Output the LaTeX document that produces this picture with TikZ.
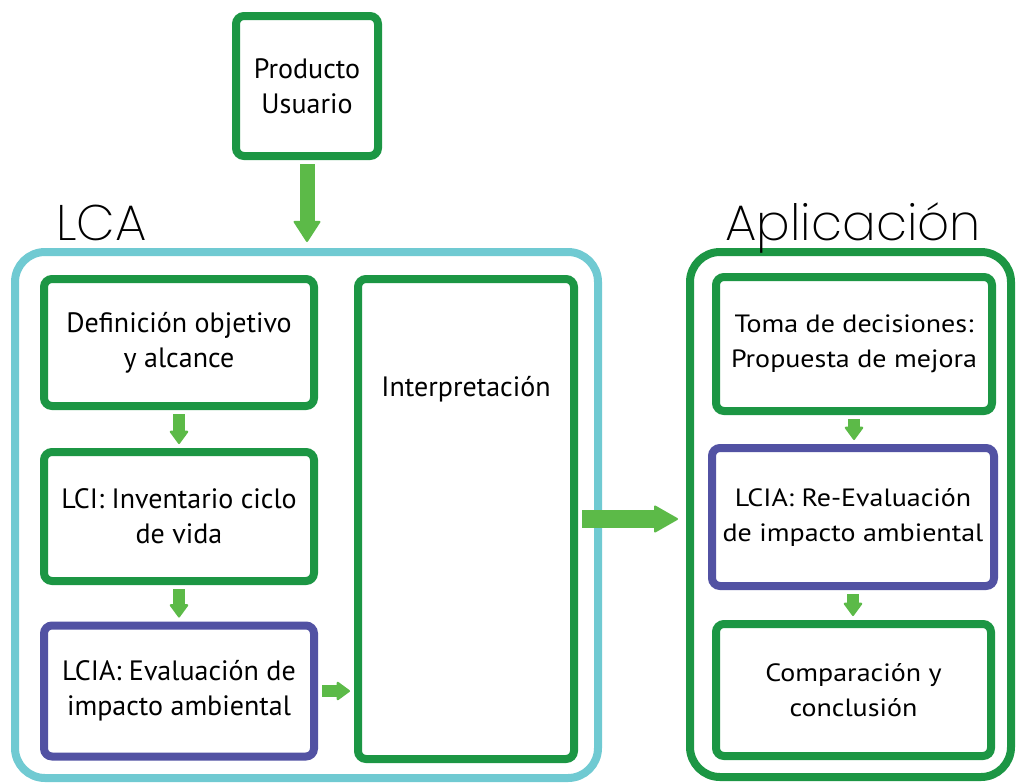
\documentclass[tikz,border=0pt]{standalone}
\usepackage{fontspec}
\setmainfont{PT Sans}
\newfontfamily\titlefont{Poppins ExtraLight}
\newfontfamily\widefont{PT Sans}[FakeStretch=1.12]
\usetikzlibrary{arrows.meta}

\definecolor{dkgreen}{RGB}{28,150,68}
\definecolor{ltgreen}{RGB}{92,186,72}
\definecolor{lcacyan}{RGB}{112,202,210}
\definecolor{lciapurple}{RGB}{82,82,163}

\tikzset{
  box/.style={draw=dkgreen, line width=4pt, rounded corners=4pt, fill=white,
    align=center, inner sep=0pt, font=\fontsize{14}{17.5}\selectfont},
  purplebox/.style={box, draw=lciapurple},
  widebox/.style={font=\widefont\fontsize{12.5}{17.5}\selectfont},
  bigframe/.style={line width=4pt, rounded corners=15pt, inner sep=0pt},
  flow/.style={draw=ltgreen, line width=6pt,
    -{Triangle[length=7pt,width=10pt,line width=1pt,round]},
    shorten <=2pt, shorten >=2pt},
  title/.style={font=\titlefont\fontsize{25}{30}\selectfont, inner sep=0pt}
}

\begin{document}
\begin{tikzpicture}[x=0.5pt, y=-0.5pt]
    \useasboundingbox (0,0) rectangle (1016,782);

    % frames
    \node[bigframe, draw=lcacyan, minimum width=291.5pt, minimum height=263pt] (lca) at (306.5,515) {};
    \node[bigframe, draw=dkgreen, minimum width=160.5pt, minimum height=262.5pt] (apl) at (850.5,514.5) {};
    \node[title, anchor=base west] (lcatitle) at (56,240) {LCA};
    \node[title, anchor=base west] (apltitle) at (725,240) {Aplicación};

    % input
    \node[box, minimum width=71pt, minimum height=70pt] (prod) at (307,86) {Producto\\Usuario};

    % LCA
    \node[box, minimum width=135pt, minimum height=63.5pt] (def) at (179,342.5) {Definición objetivo\\y alcance};
    \node[box, minimum width=135pt, minimum height=64.5pt] (lci) at (179,516.5) {LCI: Inventario ciclo\\de vida};
    \node[purplebox, minimum width=135pt, minimum height=65.5pt] (lcia) at (179,691) {LCIA: Evaluación de\\impacto ambiental};
    \node[box, minimum width=108pt, minimum height=240pt] (interp) at (466,519) {};
    \node[font=\fontsize{14}{17.5}\selectfont] (interptxt) at ([yshift=-57pt]interp.north) {Interpretación};

    % Aplicacion
    \node[box, widebox, minimum width=138pt, minimum height=67pt] (toma) at (854,344) {Toma de decisiones:\\Propuesta de mejora};
    \node[purplebox, widebox, minimum width=141pt, minimum height=69pt] (reeval) at (853,517) {LCIA: Re-Evaluación\\de impacto ambiental};
    \node[box, widebox, minimum width=137.5pt, minimum height=66pt] (comp) at (853.5,690) {Comparación y\\conclusión};

    % arrows
    \draw[flow, line width=7.5pt, -{Triangle[length=11pt,width=14pt,line width=1pt,round]}, shorten >=3pt]
        (prod.south) -- (prod.south |- lca.north);
    \draw[flow] (def.south) -- (lci.north);
    \draw[flow] (lci.south) -- (lcia.north);
    \draw[flow] (lcia.east) -- (lcia.east -| interp.west);
    \draw[flow, line width=9pt, -{Triangle[length=12.5pt,width=14pt,line width=1pt,round]}, shorten >=4pt]
        (interp.east) -- (interp.east -| apl.west);
    \draw[flow] (toma.south) -- (toma.south |- reeval.north);
    \draw[flow] (reeval.south) -- (reeval.south |- comp.north);
\end{tikzpicture}
\end{document}
